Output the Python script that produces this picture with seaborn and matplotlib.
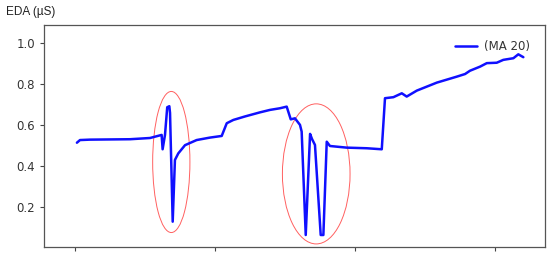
import numpy as np
import pandas as pd
import matplotlib
matplotlib.use("Agg")
import matplotlib.pyplot as plt
from matplotlib.patches import Ellipse
import seaborn as sns

# data (sample index, EDA moving average)
sample = [14, 36, 107, 393, 536, 619, 626, 643, 659, 674, 679, 698, 714, 738, 786,
          869, 964, 1048, 1084, 1131, 1214, 1321, 1393, 1464, 1512, 1541, 1571, 1607,
          1619, 1648, 1679, 1693, 1714, 1755, 1774, 1798, 1821, 1941, 2084, 2191, 2214,
          2274, 2334, 2369, 2441, 2584, 2726, 2786, 2821, 2893, 2941, 3012, 3059, 3131,
          3166, 3202]
eda = [0.512, 0.525, 0.527, 0.529, 0.535, 0.55, 0.48, 0.55, 0.685, 0.69, 0.657, 0.127,
       0.428, 0.46, 0.5, 0.525, 0.537, 0.545, 0.607, 0.623, 0.64, 0.66, 0.672, 0.68,
       0.688, 0.626, 0.631, 0.599, 0.566, 0.062, 0.555, 0.53, 0.501, 0.062, 0.062,
       0.517, 0.496, 0.488, 0.485, 0.48, 0.729, 0.734, 0.753, 0.737, 0.766, 0.805,
       0.834, 0.847, 0.863, 0.883, 0.9, 0.902, 0.916, 0.924, 0.943, 0.929]
series_label = "(MA 20)"
y_ticks = [0.2, 0.4, 0.6, 0.8, 1.0]
x_ticks = [0, 1000, 2000, 3000]

df = pd.DataFrame({"sample": sample, "eda": eda, "series": series_label})

sns.set_style("ticks")
plt.rcParams["font.family"] = ["DejaVu Sans"]

fig = plt.figure(figsize=(5.5, 2.59), dpi=100)
ax = fig.add_axes([0.08, 0.0475, 0.911, 0.856])

sns.lineplot(data=df, x="sample", y="eda", hue="series", palette=["#1010ff"],
             linewidth=1.8, ax=ax, estimator=None, sort=False)

ax.add_patch(Ellipse((688, 0.418), 266, 0.688, fill=False, edgecolor="#ff6060", linewidth=0.7))
ax.add_patch(Ellipse((1723, 0.36), 483, 0.683, fill=False, edgecolor="#ff6060", linewidth=0.7))

ax.set_xlim(-221, 3357)
ax.set_ylim(0.005, 1.086)
ax.set_xticks(x_ticks)
ax.set_xticklabels([])
ax.set_yticks(y_ticks)
ax.set_yticklabels([f"{v:.1f}" for v in y_ticks])
ax.tick_params(axis="both", length=3, width=0.8, colors="#444444", labelsize=8.5,
               labelcolor="#333333")
ax.set_xlabel("")
ax.set_ylabel("")
for s in ax.spines.values():
    s.set_visible(True)
    s.set_color("#555555")
    s.set_linewidth(0.9)

leg = ax.legend(loc="upper right", frameon=False, fontsize=8.5, handlelength=1.8,
                borderaxespad=0.9, handletextpad=0.6)
for t in leg.get_texts():
    t.set_color("#333333")

fig.text(0.01, 1 - 12 / 259, "EDA (µS)", fontsize=8.5, va="center", ha="left",
         color="#222222", family=["Liberation Sans", "DejaVu Sans"])

fig.savefig("out.png", dpi=100)
